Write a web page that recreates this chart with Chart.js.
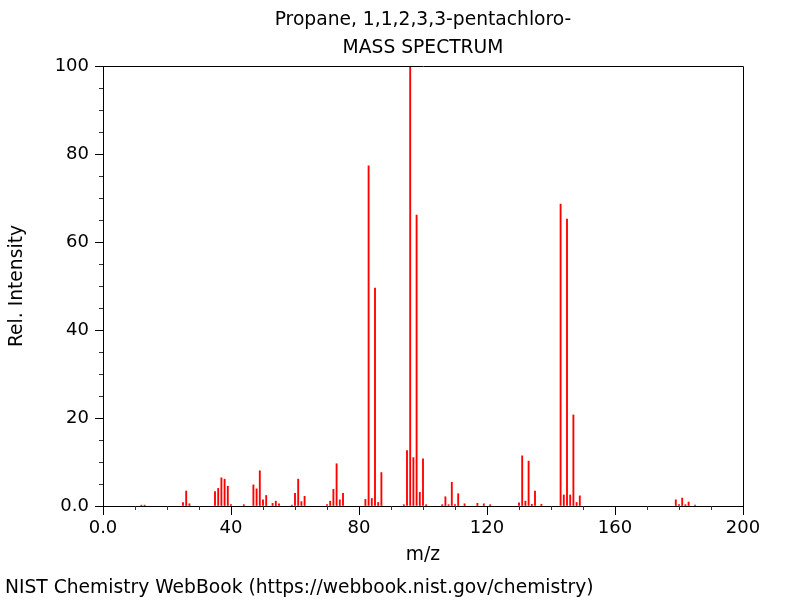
<!DOCTYPE html>
<html>
<head>
<meta charset="utf-8">
<script src="https://cdn.jsdelivr.net/npm/chart.js@4/dist/chart.umd.min.js"></script>
<style>
  html, body { margin: 0; padding: 0; background: #fff; }
  #wrap { width: 800px; height: 600px; }
</style>
</head>
<body>
<div id="wrap"><canvas id="c" width="800" height="600"></canvas></div>
<script>
const titleLines = ["Propane, 1,1,2,3,3-pentachloro-", "MASS SPECTRUM"];
const xAxisLabel = "m/z";
const yAxisLabel = "Rel. Intensity";
const footerText = "NIST Chemistry WebBook (https://webbook.nist.gov/chemistry)";

const mz = [12, 13, 25, 26, 27, 35, 36, 37, 38, 39, 40, 44, 47, 48, 49, 50, 51, 53, 54, 55,
  59, 60, 61, 62, 63, 70, 71, 72, 73, 74, 75, 82, 83, 84, 85, 86, 87, 94, 95, 96,
  97, 98, 99, 100, 101, 106, 107, 108, 109, 110, 111, 113, 117, 119, 121, 130, 131, 132, 133, 134,
  135, 137, 143, 144, 145, 146, 147, 148, 149, 179, 180, 181, 182, 183, 185];
const intensity = [0.2, 0.2, 0.8, 3.4, 0.5, 3.3, 4.0, 6.4, 6.1, 4.5, 0.3, 0.3, 4.8, 3.9, 8.0, 1.4, 2.4, 0.6, 1.1, 0.5,
  0.2, 2.9, 6.1, 1.0, 2.2, 0.3, 1.1, 3.8, 9.6, 1.4, 2.9, 1.5, 77.3, 1.7, 49.5, 0.8, 7.6, 0.3, 12.6, 100,
  11.0, 66.1, 3.1, 10.7, 0.3, 0.3, 2.1, 0.3, 5.4, 0.3, 2.8, 0.5, 0.6, 0.5, 0.3, 0.7, 11.4, 1.1, 10.2, 0.4,
  3.4, 0.4, 68.6, 2.5, 65.2, 2.5, 20.7, 0.8, 2.3, 1.4, 0.3, 1.8, 0.3, 0.9, 0.2];

const xMajorTicks = [0, 40, 80, 120, 160, 200];
const yMajorTicks = [0, 20, 40, 60, 80, 100];
const xMinorStep = 10;
const yMinorStep = 5;

const FONT = "'DejaVu Sans', sans-serif";

const points = mz.map((m, i) => ({ x: m, y: intensity[i] }));

const decorPlugin = {
  id: 'decor',
  afterDraw(chart) {
    const ctx = chart.ctx;
    const a = chart.chartArea;
    const xs = chart.scales.x, ys = chart.scales.y;
    ctx.save();
    // frame top/right
    ctx.strokeStyle = '#000';
    ctx.lineWidth = 1;
    ctx.beginPath();
    ctx.moveTo(Math.round(a.left) + 0.5, Math.round(a.top) + 0.5);
    ctx.lineTo(Math.round(a.right) + 0.5, Math.round(a.top) + 0.5);
    ctx.lineTo(Math.round(a.right) + 0.5, Math.round(a.bottom) + 0.5);
    ctx.stroke();
    // minor ticks
    ctx.strokeStyle = '#333';
    ctx.beginPath();
    for (let v = xs.min; v <= xs.max; v += xMinorStep) {
      if (xMajorTicks.includes(v)) continue;
      const px = Math.round(xs.getPixelForValue(v)) + 0.5;
      ctx.moveTo(px, Math.round(a.bottom));
      ctx.lineTo(px, Math.round(a.bottom) + 4);
    }
    for (let v = ys.min; v <= ys.max; v += yMinorStep) {
      if (yMajorTicks.includes(v)) continue;
      const py = Math.round(ys.getPixelForValue(v)) + 0.5;
      ctx.moveTo(Math.round(a.left), py);
      ctx.lineTo(Math.round(a.left) - 4, py);
    }
    ctx.stroke();
    // titles
    ctx.fillStyle = '#000';
    ctx.font = "18.7px " + FONT;
    ctx.textAlign = 'center';
    ctx.textBaseline = 'middle';
    const cx = (a.left + a.right) / 2;
    ctx.fillText(titleLines[0], cx, 20.5);
    ctx.fillText(titleLines[1], cx, 48.5);
    // footer
    ctx.textAlign = 'left';
    ctx.fillText(footerText, 5, 588.5);
    ctx.restore();
  }
};

new Chart(document.getElementById('c'), {
  type: 'bar',
  data: {
    datasets: [{
      data: points,
      backgroundColor: '#ff0000',
      borderWidth: 0,
      barThickness: 1.2
    }]
  },
  options: {
    responsive: false,
    animation: false,
    events: [],
    layout: { padding: { top: 66, left: 0, right: 57, bottom: 0 } },
    plugins: { legend: { display: false }, tooltip: { enabled: false }, title: { display: false } },
    scales: {
      x: {
        type: 'linear',
        min: 0, max: 200,
        offset: false,
        afterFit(scale) { scale.height = 94; },
        afterBuildTicks(scale) { scale.ticks = xMajorTicks.map(v => ({ value: v })); },
        ticks: {
          color: '#000',
          font: { family: FONT, size: 18 },
          padding: 3,
          maxRotation: 0,
          autoSkip: false,
          callback: v => v === 0 ? '0.0' : String(v)
        },
        grid: { drawOnChartArea: false, offset: false, tickLength: 9, color: '#000', tickColor: '#000' },
        border: { display: true, color: '#000', width: 1 },
        title: { display: true, text: xAxisLabel, color: '#000', font: { family: FONT, size: 18.7 }, padding: { top: 0, bottom: 34 } }
      },
      y: {
        min: 0, max: 100,
        afterFit(scale) { scale.width = 103; },
        afterBuildTicks(scale) { scale.ticks = yMajorTicks.map(v => ({ value: v })); },
        ticks: {
          color: '#000',
          font: { family: FONT, size: 18 },
          padding: 6,
          autoSkip: false,
          callback: v => v === 0 ? '0.0' : String(v)
        },
        grid: { drawOnChartArea: false, tickLength: 8, color: '#000', tickColor: '#000' },
        border: { display: true, color: '#000', width: 1 },
        title: { display: true, text: yAxisLabel, color: '#000', font: { family: FONT, size: 18.7 }, padding: { top: 6, bottom: 0 } }
      }
    }
  },
  plugins: [decorPlugin]
});
</script>
</body>
</html>
